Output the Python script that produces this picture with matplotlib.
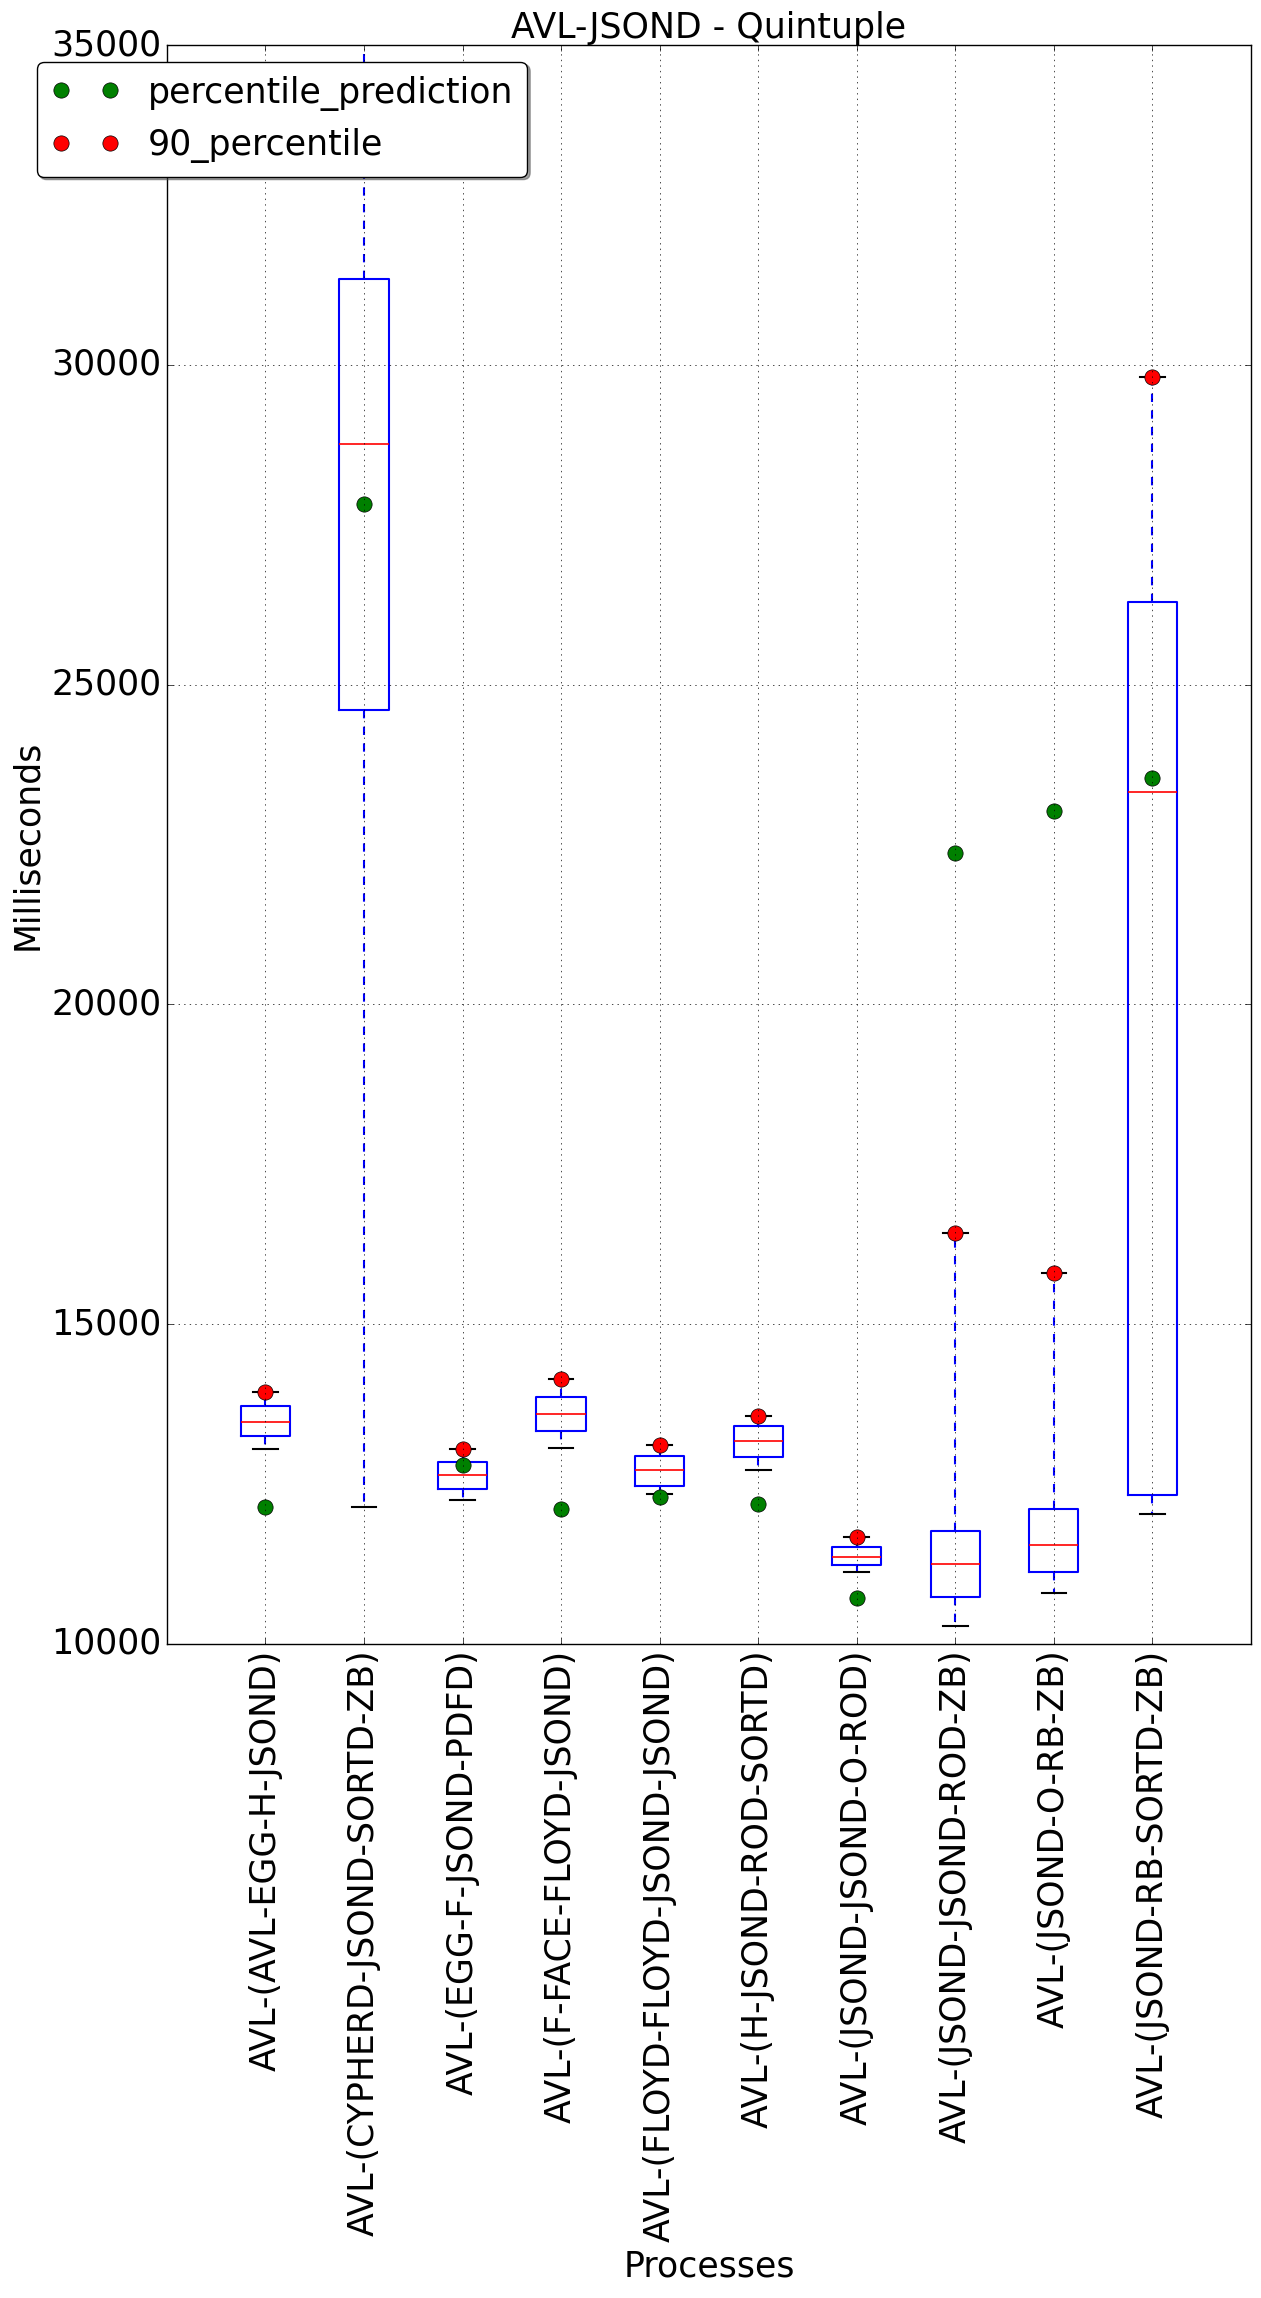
import matplotlib
matplotlib.use('Agg')
import matplotlib.pyplot as plt

plt.style.use('classic')
plt.rcParams['font.family'] = ['DejaVu Sans']

processes = [
    'AVL-(AVL-EGG-H-JSOND)',
    'AVL-(CYPHERD-JSOND-SORTD-ZB)',
    'AVL-(EGG-F-JSOND-PDFD)',
    'AVL-(F-FACE-FLOYD-JSOND)',
    'AVL-(FLOYD-FLOYD-JSOND-JSOND)',
    'AVL-(H-JSOND-ROD-SORTD)',
    'AVL-(JSOND-JSOND-O-ROD)',
    'AVL-(JSOND-JSOND-ROD-ZB)',
    'AVL-(JSOND-O-RB-ZB)',
    'AVL-(JSOND-RB-SORTD-ZB)',
]
whislo = [13050, 12137, 12247, 13060, 12345, 12716, 11121, 10281, 10793, 12028]
q1 = [13247, 24598, 12419, 13330, 12466, 12920, 11230, 10730, 11121, 12330]
med = [13466, 28762, 12638, 13591, 12716, 13174, 11356, 11256, 11553, 23316]
q3 = [13726, 31337, 12841, 13857, 12935, 13404, 11512, 11762, 12106, 26297]
whishi = [13940, 37500, 13049, 14138, 13111, 13560, 11668, 16421, 15796, 29805]
percentile_prediction = [12137, 27820, 12794, 12106, 12298, 12184, 10714, 22367, 23024, 23535]
percentile_90 = [13940, 37500, 13049, 14138, 13111, 13560, 11668, 16421, 15796, 29805]
yticks = [10000, 15000, 20000, 25000, 30000, 35000]

FS = 25

fig = plt.figure(figsize=(12.61, 22.98), dpi=100, facecolor='white')
ax = fig.add_axes([0.1324, 0.2846, 0.8596, 0.6958])

positions = list(range(1, len(processes) + 1))
stats = [dict(label=p, whislo=a, q1=b, med=c, q3=d, whishi=e, fliers=[])
         for p, a, b, c, d, e in zip(processes, whislo, q1, med, q3, whishi)]
ax.bxp(stats, positions=positions, widths=0.5, showfliers=False,
       boxprops=dict(color='b', linewidth=1.5),
       whiskerprops=dict(color='b', linestyle='--', linewidth=1.5),
       capprops=dict(color='k', linewidth=1.5),
       medianprops=dict(color='r', linewidth=1.2))

ax.plot(positions, percentile_prediction, 'o', color=(0, 0.5, 0), markeredgecolor='k',
        markersize=11, linestyle='None', label='percentile_prediction')
ax.plot(positions, percentile_90, 'o', color='r', markeredgecolor='k',
        markersize=11, linestyle='None', label='90_percentile')

ax.set_xlim(0, len(processes) + 1)
ax.set_ylim(10000, 35000)
ax.set_xticks(positions)
ax.set_xticklabels(processes, rotation=90, fontsize=FS)
ax.set_yticks(yticks)
ax.set_yticklabels([str(v) for v in yticks], fontsize=FS)
ax.grid(True)

ax.set_title('AVL-JSOND - Quintuple', fontsize=FS)
ax.set_xlabel('Processes', fontsize=FS)
ax.set_ylabel('Milliseconds', fontsize=FS)

ax.legend(loc='upper left', bbox_to_anchor=(-0.12, 0.9896), borderaxespad=0,
          fancybox=True, shadow=True, numpoints=2, fontsize=FS)

fig.savefig('out.png', dpi=100, facecolor='white')
